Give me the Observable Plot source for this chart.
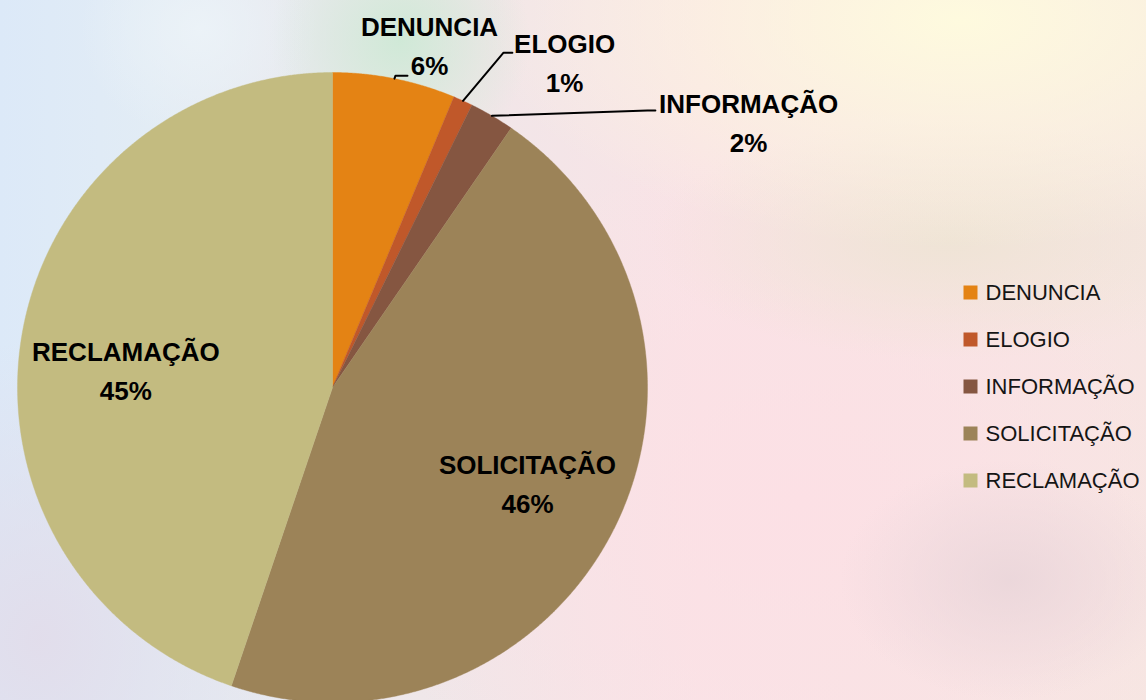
<!DOCTYPE html>
<html>
<head>
<meta charset="utf-8">
<script src="https://cdn.jsdelivr.net/npm/d3@7"></script>
<script src="https://cdn.jsdelivr.net/npm/@observablehq/plot@0.6"></script>
<style>
  html, body { margin: 0; padding: 0; overflow: hidden; }
  body {
    width: 1146px; height: 700px;
    background:
      radial-gradient(ellipse 130px 130px at 400px 40px, rgba(206,233,214,0.95), rgba(206,233,214,0)),
      radial-gradient(ellipse 120px 110px at 200px 30px, rgba(236,243,248,0.9), rgba(236,243,248,0)),
      radial-gradient(ellipse 480px 230px at 960px 20px, rgba(254,250,222,1), rgba(254,250,222,0)),
      radial-gradient(ellipse 300px 120px at 950px 240px, rgba(238,228,212,0.9), rgba(238,228,212,0)),
      radial-gradient(ellipse 170px 120px at 1010px 580px, rgba(234,214,218,0.9), rgba(234,214,218,0)),
      radial-gradient(ellipse 460px 360px at 800px 500px, rgba(252,224,229,1), rgba(252,224,229,0)),
      radial-gradient(ellipse 260px 300px at 40px 640px, rgba(226,220,234,0.9), rgba(226,220,234,0)),
      linear-gradient(to right, #dce9f8 0px, #e2ecf5 150px, #efe7e9 420px, #f9e3e6 700px, #f6e6e2 1146px);
    font-family: "Liberation Sans", Arial, sans-serif;
  }
  #wrap { position: relative; width: 1146px; height: 700px; }
  #pie { position: absolute; left: 0; top: 0; }
  #legend { position: absolute; left: 955px; top: 267px; }
</style>
</head>
<body>
<div id="wrap"><div id="pie"></div><div id="legend"></div></div>
<script>
// ---- data ----
const categories = ["DENUNCIA", "ELOGIO", "INFORMAÇÃO", "SOLICITAÇÃO", "RECLAMAÇÃO"];
const shares = [6.3, 1.0, 2.3, 45.6, 44.8]; // percent
const colors = ["#E48314", "#C0582A", "#855641", "#9C8358", "#C3BB80"];

// ---- layout (unit-circle coordinates) ----
const labelAt = [[0.308, 1.079], [0.737, 1.024], [1.321, 0.835], [0.619, -0.310], [-0.656, 0.048]];
const leaderBends = [
  [[0.200, 0.990], [0.238, 0.990]],
  [[0.543, 1.063], [0.571, 1.063]],
  [[1.000, 0.879], [1.025, 0.879]],
  null, null
];

const total = d3.sum(shares);
const slices = [];
const leaders = [];
let acc = 0;
categories.forEach((cat, i) => {
  const a0 = acc / total * 2 * Math.PI;
  acc += shares[i];
  const a1 = acc / total * 2 * Math.PI;
  const steps = Math.max(2, Math.ceil((a1 - a0) / (Math.PI / 720)));
  slices.push({cat, x: 0, y: 0});
  for (let k = 0; k <= steps; k++) {
    const a = a0 + (a1 - a0) * k / steps;
    slices.push({cat, x: Math.sin(a), y: Math.cos(a)});
  }
  slices.push({cat, x: 0, y: 0});
  if (leaderBends[i]) {
    const am = (a0 + a1) / 2;
    leaders.push({cat, x: Math.sin(am), y: Math.cos(am)});
    leaderBends[i].forEach(([x, y]) => leaders.push({cat, x, y}));
  }
});
const labels = categories.map((cat, i) => ({
  cat, x: labelAt[i][0], y: labelAt[i][1],
  text: `${cat}\n${Math.round(shares[i] / total * 100)}%`
}));

const pie = Plot.plot({
  width: 1146,
  height: 700,
  margin: 0,
  style: {background: "transparent", overflow: "visible"},
  x: {domain: [-1, 1], range: [17, 647], axis: null},
  y: {domain: [-1, 1], range: [702, 72], axis: null},
  color: {domain: categories, range: colors},
  marks: [
    Plot.line(slices, {x: "x", y: "y", z: "cat", fill: "cat", stroke: "cat", strokeWidth: 0.4, curve: "linear"}),
    Plot.line(leaders, {x: "x", y: "y", z: "cat", stroke: "black", strokeWidth: 2, curve: "linear"}),
    Plot.text(labels, {x: "x", y: "y", text: "text", fontSize: 26, fontWeight: "bold", lineHeight: 1.5, dy: -4.5,
      fontFamily: "Liberation Sans, Arial, sans-serif", fill: "black"})
  ]
});
document.getElementById("pie").appendChild(pie);

const legend = Plot.plot({
  width: 191,
  height: 240,
  margin: 0,
  style: {background: "transparent", overflow: "visible"},
  x: {domain: [0, 1], range: [15, 190], axis: null},
  y: {type: "point", domain: categories, range: [24, 214], padding: 0, axis: null},
  color: {domain: categories, range: colors},
  marks: [
    Plot.dot(categories, {x: () => 0, y: d => d, fill: d => d, symbol: "square", r: 7.9, stroke: null}),
    Plot.text(categories, {x: () => 0, y: d => d, text: d => d, dx: 15, textAnchor: "start", fontSize: 22,
      fontFamily: "Liberation Sans, Arial, sans-serif", fill: "#151515"})
  ]
});
document.getElementById("legend").appendChild(legend);
</script>
</body>
</html>
